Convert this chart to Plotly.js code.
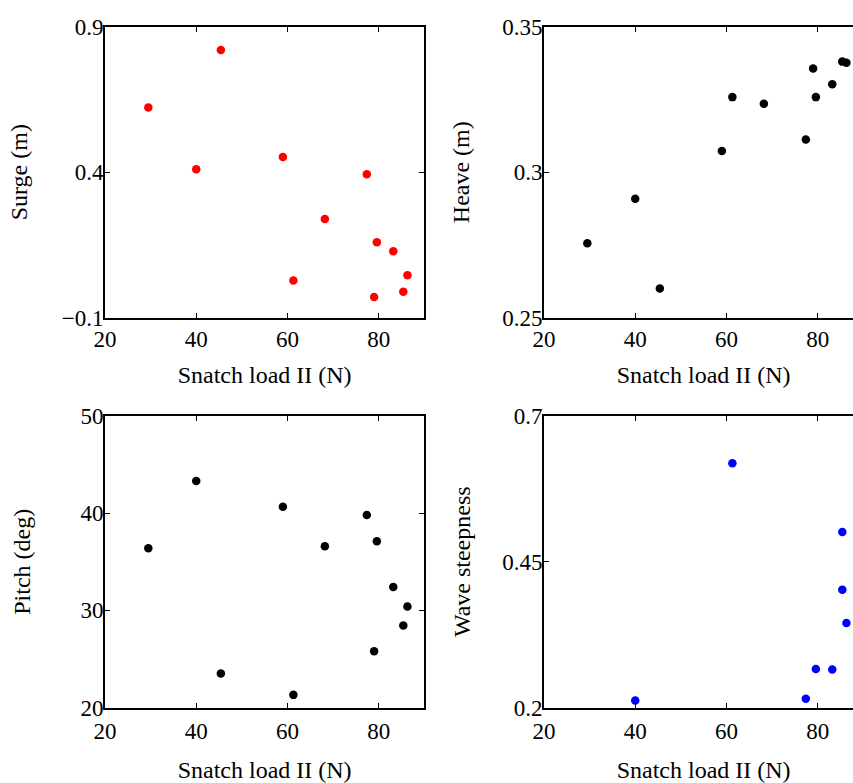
<!DOCTYPE html>
<html>
<head>
<meta charset="utf-8">
<script src="https://cdn.plot.ly/plotly-3.0.1.min.js"></script>
<style>
html, body { margin: 0; padding: 0; overflow: hidden; background: #fff; }
#chart { width: 880px; height: 783px; }
</style>
</head>
<body>
<div id="chart"></div>
<script>
// Data
const snatchLoad = [29.5, 40.0, 45.4, 59.0, 61.3, 68.2, 77.4, 79.0, 79.6, 83.2, 85.4, 86.3];
const surge = [0.622, 0.410, 0.820, 0.452, 0.028, 0.239, 0.393, -0.029, 0.159, 0.128, -0.011, 0.046];
const heave = [0.2756, 0.2909, 0.260, 0.3073, 0.3258, 0.3235, 0.3112, 0.3356, 0.3258, 0.3302, 0.3380, 0.3376];
const pitch = [36.4, 43.3, 23.5, 40.65, 21.3, 36.6, 39.8, 25.8, 37.1, 32.4, 28.45, 30.4];
const waveLoad = [40.0, 61.3, 77.4, 79.6, 83.2, 85.4, 85.4, 86.3];
const waveSteepness = [0.212, 0.619, 0.215, 0.266, 0.265, 0.501, 0.402, 0.345];

const xTicks = [20, 40, 60, 80];
const surgeTicks = [-0.1, 0.4, 0.9];
const surgeTickText = ["\u22120.1", "0.4", "0.9"];
const heaveTicks = [0.25, 0.3, 0.35];
const heaveTickText = ["0.25", "0.3", "0.35"];
const pitchTicks = [20, 30, 40, 50];
const pitchTickText = ["20", "30", "40", "50"];
const waveTicks = [0.2, 0.45, 0.7];
const waveTickText = ["0.2", "0.45", "0.7"];

const xTitle = "Snatch load II (N)";
const FONT = '"Liberation Serif", "Times New Roman", Times, serif';

const W = 880, H = 783;
const dom = (a, b, tot) => [a / tot, b / tot];

function mk(x, y, color, xa, ya) {
  return { type: 'scatter', mode: 'markers', x: x, y: y, xaxis: xa, yaxis: ya,
    marker: { color: color, size: 8.5 }, showlegend: false, hoverinfo: 'x+y' };
}

const data = [
  mk(snatchLoad, surge, '#ff0000', 'x', 'y'),
  mk(snatchLoad, heave, '#000000', 'x2', 'y2'),
  mk(snatchLoad, pitch, '#000000', 'x3', 'y3'),
  mk(waveLoad, waveSteepness, '#0000ff', 'x4', 'y4')
];

function xax(domain, anchor, so, tls) {
  return { domain: domain, anchor: anchor, range: [20, 90], tickvals: xTicks,
    ticks: 'inside', ticklen: 5, tickwidth: 1, tickcolor: '#000',
    showline: true, linewidth: 2, linecolor: '#000', mirror: 'ticks',
    showgrid: false, zeroline: false, automargin: false, ticklabelstandoff: tls,
    tickfont: { family: FONT, size: 23, color: '#000' },
    title: { text: xTitle, font: { family: FONT, size: 24, color: '#000' }, standoff: so } };
}
function yax(domain, anchor, range, tv, tt, title, so) {
  return { domain: domain, anchor: anchor, range: range, tickvals: tv, ticktext: tt,
    ticks: 'inside', ticklen: 5, tickwidth: 1, tickcolor: '#000',
    showline: true, linewidth: 2, linecolor: '#000', mirror: 'ticks',
    showgrid: false, zeroline: false, automargin: false, ticklabelstandoff: -5,
    tickfont: { family: FONT, size: 23, color: '#000' },
    title: { text: title, font: { family: FONT, size: 24, color: '#000' }, standoff: so } };
}

const xL = dom(105, 424.3, W), xR = dom(544, 863.3, W);
const yT = [1 - 317.7 / H, 1 - 26.7 / H], yB = [1 - 707.5 / H, 1 - 416 / H];

const layout = {
  width: W, height: H,
  margin: { l: 0, r: 0, t: 0, b: 0 },
  paper_bgcolor: '#fff', plot_bgcolor: '#fff',
  font: { family: FONT, color: '#000' },
  xaxis: xax(xL, 'y', 15, 0),
  yaxis: yax(yT, 'x', [-0.1, 0.9], surgeTicks, surgeTickText, 'Surge (m)', 27),
  xaxis2: xax(xR, 'y2', 15, 0),
  yaxis2: yax(yT, 'x2', [0.25, 0.35], heaveTicks, heaveTickText, 'Heave (m)', 26),
  xaxis3: xax(xL, 'y3', 20, 2),
  yaxis3: yax(yB, 'x3', [20, 50], pitchTicks, pitchTickText, 'Pitch (deg)', 43),
  xaxis4: xax(xR, 'y4', 20, 2),
  yaxis4: yax(yB, 'x4', [0.2, 0.7], waveTicks, waveTickText, 'Wave steepness', 25)
};

Plotly.newPlot('chart', data, layout, { displayModeBar: false, staticPlot: true });
</script>
</body>
</html>
